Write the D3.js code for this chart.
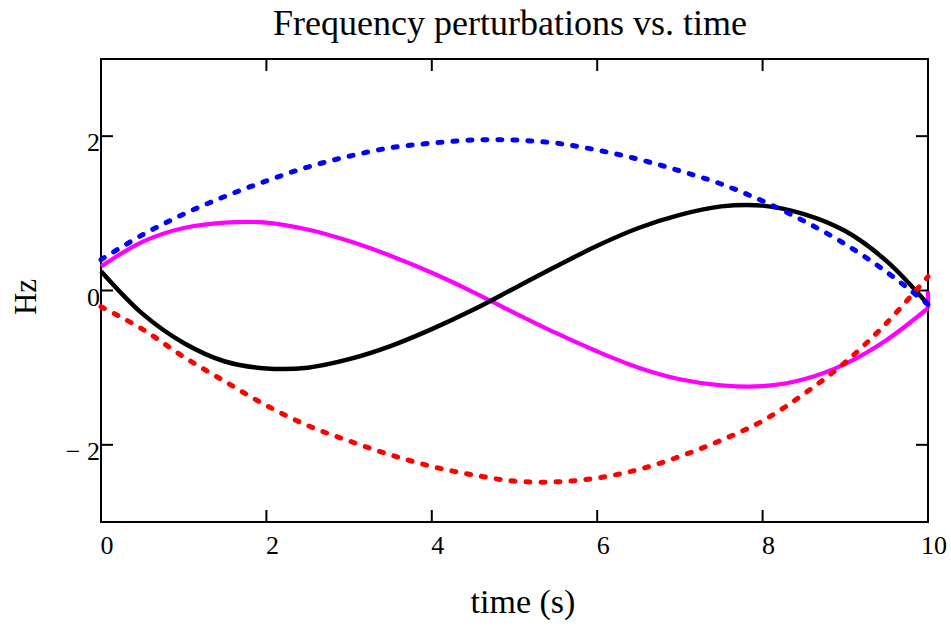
<!DOCTYPE html>
<html>
<head>
<meta charset="utf-8">
<script src="https://cdn.jsdelivr.net/npm/d3@7"></script>
<style>
  html, body { margin: 0; padding: 0; background: #fff; }
  svg { display: block; }
  text { font-family: "Liberation Serif", "Times New Roman", serif; fill: #000; }
</style>
</head>
<body>
<svg id="chart" width="951" height="630"></svg>
<script>
// ---- data ----
const times      = [0, 0.5, 1, 1.5, 2, 2.5, 3, 3.5, 4, 4.5, 5, 5.5, 6, 6.5, 7, 7.5, 8, 8.5, 9, 9.5, 10];
const blueDash   = [0.40, 0.72, 0.99, 1.22, 1.42, 1.60, 1.74, 1.85, 1.91, 1.95, 1.95, 1.91, 1.82, 1.70, 1.55, 1.38, 1.16, 0.90, 0.60, 0.24, -0.18];
const magentaSolid = [0.31, 0.63, 0.81, 0.88, 0.88, 0.79, 0.64, 0.45, 0.23, -0.02, -0.29, -0.55, -0.79, -1.00, -1.15, -1.23, -1.24, -1.15, -0.95, -0.64, -0.23];
const blackSolid = [0.25, -0.30, -0.68, -0.92, -1.01, -1.00, -0.89, -0.72, -0.50, -0.25, 0.03, 0.31, 0.58, 0.81, 0.98, 1.09, 1.10, 0.99, 0.77, 0.38, -0.18];
const redDash    = [-0.21, -0.50, -0.86, -1.18, -1.49, -1.75, -1.95, -2.13, -2.28, -2.39, -2.47, -2.48, -2.43, -2.32, -2.15, -1.94, -1.69, -1.34, -0.93, -0.42, 0.18];
const magentaTailT = [10, 10];
const magentaTailV = [-0.23, -0.01];
const xTicks = [0, 2, 4, 6, 8, 10];
const yTicks = [-2, 0, 2];
const xDomain = [0, 10];
const yDomain = [-3, 3];
const titleText = "Frequency perturbations vs. time";
const xLabel = "time (s)";
const yLabel = "Hz";

// ---- layout ----
const svg = d3.select("#chart");
const L = 101, R = 928, T = 59, B = 522;
const x = d3.scaleLinear().domain(xDomain).range([L, R]);
const y = d3.scaleLinear().domain(yDomain).range([B, T]);

const line = d3.line().x(d => x(d[0])).y(d => y(d[1])).curve(d3.curveCatmullRom.alpha(0.5));
const lin = d3.line().x(d => x(d[0])).y(d => y(d[1]));
const pts = vals => times.map((t, i) => [t, vals[i]]);

// frame
svg.append("rect").attr("x", L).attr("y", T).attr("width", R - L).attr("height", B - T)
  .attr("fill", "none").attr("stroke", "#000").attr("stroke-width", 2);

// ticks (inward on all sides)
const tl = 12;
const tg = svg.append("g").attr("stroke", "#000").attr("stroke-width", 2);
xTicks.forEach(t => {
  tg.append("line").attr("x1", x(t)).attr("x2", x(t)).attr("y1", B).attr("y2", B - tl);
  tg.append("line").attr("x1", x(t)).attr("x2", x(t)).attr("y1", T).attr("y2", T + tl);
});
yTicks.forEach(v => {
  tg.append("line").attr("y1", y(v)).attr("y2", y(v)).attr("x1", L).attr("x2", L + tl);
  tg.append("line").attr("y1", y(v)).attr("y2", y(v)).attr("x1", R).attr("x2", R - tl);
});

// tick labels
svg.append("g").selectAll("text").data(xTicks).join("text")
  .attr("x", d => x(d) + 6).attr("y", 554).attr("text-anchor", "middle")
  .attr("font-size", 26).text(d => d);
svg.append("g").selectAll("text").data(yTicks).join("text")
  .attr("x", L - 1).attr("y", d => y(d) + 15).attr("text-anchor", "end")
  .attr("font-size", 26).text(d => d < 0 ? "\u2212 " + Math.abs(d) : d);

// series
const g = svg.append("g").attr("fill", "none");
g.append("path").attr("d", line(pts(magentaSolid))).attr("stroke", "#ff00ff").attr("stroke-width", 4.2);
g.append("path").attr("d", lin(magentaTailT.map((t, i) => [t, magentaTailV[i]]))).attr("stroke", "#ff00ff").attr("stroke-width", 4.2);
g.append("path").attr("d", line(pts(blackSolid))).attr("stroke", "#000").attr("stroke-width", 4.5);
g.append("path").attr("d", line(pts(redDash))).attr("stroke", "#ff0000").attr("stroke-width", 5)
  .attr("stroke-dasharray", "4,11").attr("stroke-linecap", "round");
g.append("path").attr("d", line(pts(blueDash))).attr("stroke", "#0000ff").attr("stroke-width", 5)
  .attr("stroke-dasharray", "4,11").attr("stroke-linecap", "round");

// titles
svg.append("text").attr("x", 510).attr("y", 35).attr("text-anchor", "middle")
  .attr("font-size", 36).text(titleText);
svg.append("text").attr("x", 523).attr("y", 613).attr("text-anchor", "middle")
  .attr("font-size", 34).text(xLabel);
svg.append("text").attr("transform", "translate(36,297) rotate(-90)").attr("text-anchor", "middle")
  .attr("font-size", 31).text(yLabel);
</script>
</body>
</html>
